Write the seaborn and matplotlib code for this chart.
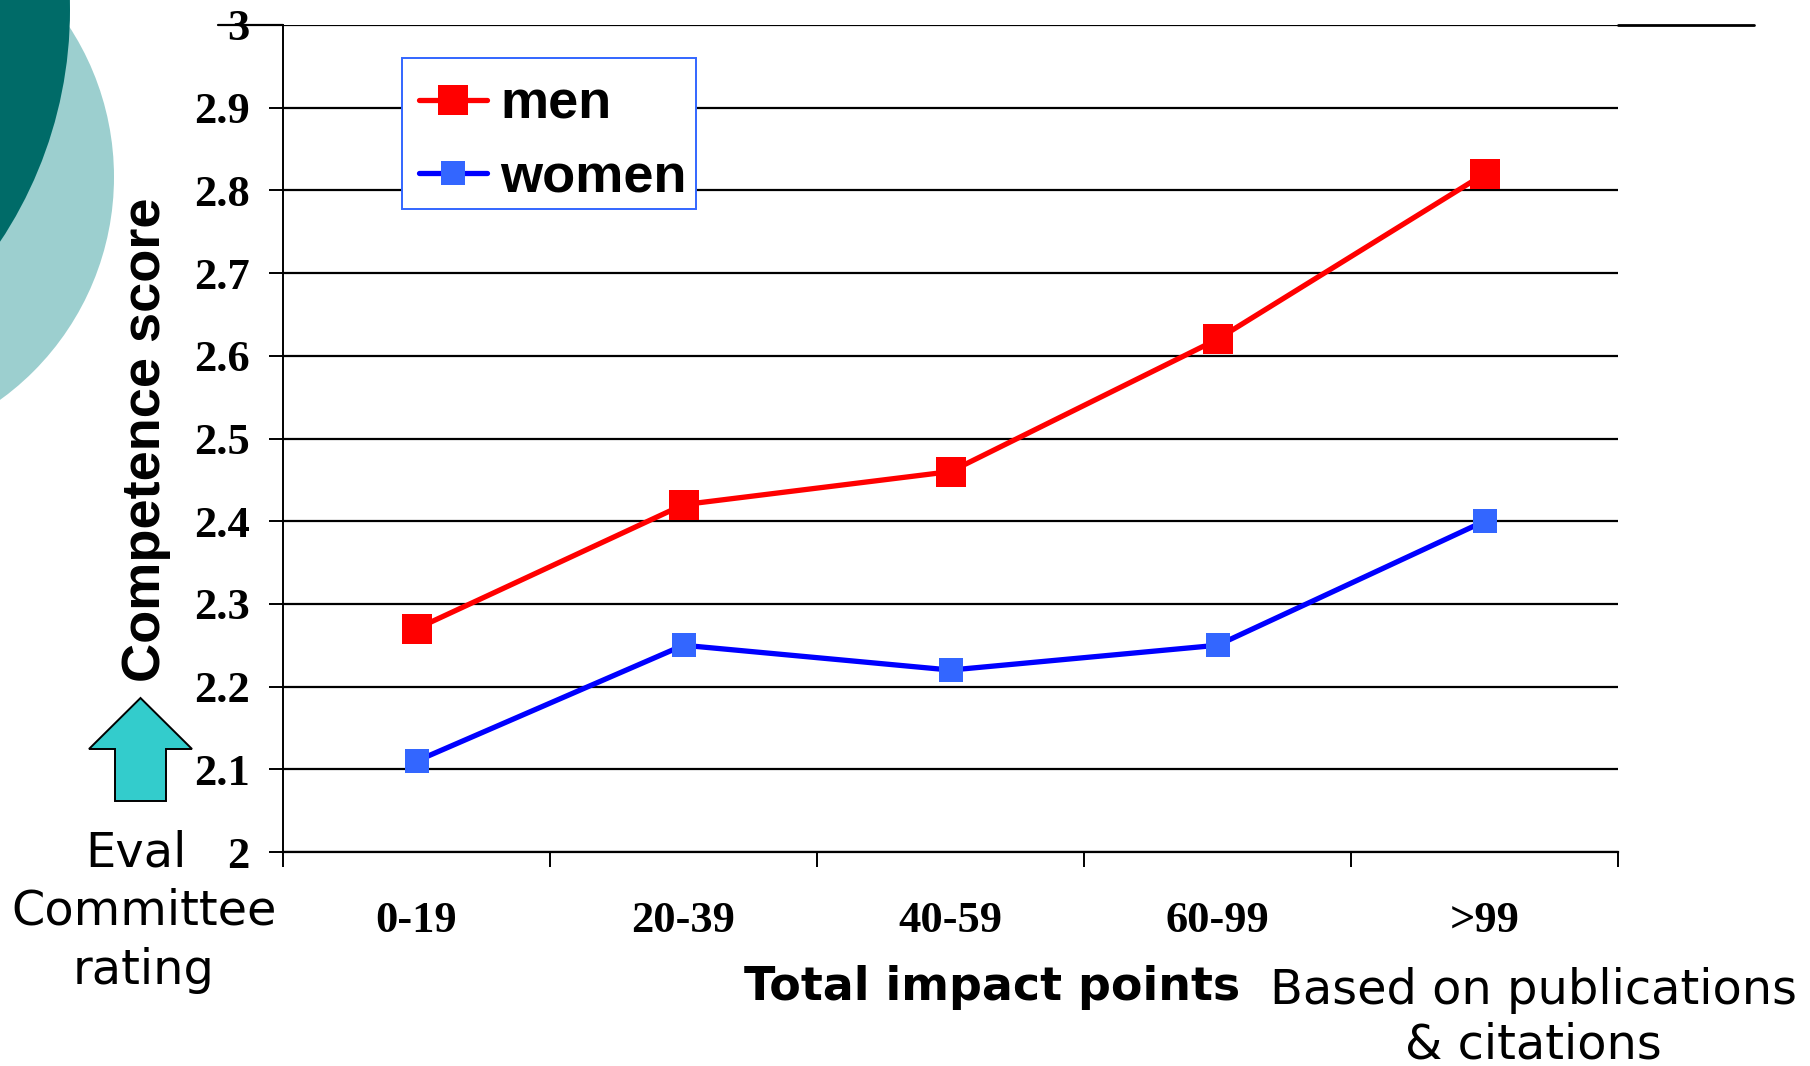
import pandas as pd
import matplotlib.pyplot as plt
import seaborn as sns
from matplotlib.lines import Line2D
from matplotlib.patches import Circle, Polygon, Rectangle

# Values
categories = ["0-19", "20-39", "40-59", "60-99", ">99"]
men_scores = [2.27, 2.42, 2.46, 2.62, 2.82]
women_scores = [2.11, 2.25, 2.22, 2.25, 2.40]
y_ticks = [2.0, 2.1, 2.2, 2.3, 2.4, 2.5, 2.6, 2.7, 2.8, 2.9, 3.0]
y_tick_labels = ["2", "2.1", "2.2", "2.3", "2.4", "2.5", "2.6", "2.7", "2.8", "2.9", "3"]

W, H = 1810, 1066
SERIF = "Liberation Serif"
ARIAL = "Liberation Sans"
VERDANA = "DejaVu Sans"

sns.set_style("white")

data = pd.DataFrame({
    "impact": categories * 2,
    "score": men_scores + women_scores,
    "group": ["men"] * 5 + ["women"] * 5,
})


def px(x, y):
    # pixel position measured from the top left of the picture
    return x / W, 1 - y / H


fig = plt.figure(figsize=(W / 100, H / 100), dpi=100)

# --- Slide background circles and arrow ---
fig.patches.append(Circle((-161, H - 177), 275, color="#9CCFCF", lw=0,
                          transform=None, figure=fig))
fig.patches.append(Circle((-349, H - 10), 419, color="#006B68", lw=0,
                          transform=None, figure=fig))
arrow = [(140.5, 698), (192, 749), (166, 749), (166, 801),
         (115, 801), (115, 749), (89, 749)]
fig.patches.append(Polygon([(x, H - y) for x, y in arrow], closed=True,
                           facecolor="#33CCCC", edgecolor="black", lw=1.4,
                           transform=None, figure=fig))

# --- Chart ---
ax = fig.add_axes([283 / W, 1 - 852 / H, 1335 / W, 827 / H])
ax.patch.set_alpha(0)

sns.lineplot(data=data, x="impact", y="score", hue="group", style="group",
             palette={"men": "#FF0000", "women": "#0000FF"},
             markers={"men": "s", "women": "s"}, dashes=False,
             sort=False, linewidth=3.8, ax=ax, zorder=3)

ax.set_xlim(-0.5, 4.5)
ax.set_ylim(2, 3)

handles, labels = ax.get_legend_handles_labels()
for line in list(ax.lines[:2]) + list(handles):
    is_men = line.get_color() == "#FF0000"
    line.set_markersize(21.6 if is_men else 16.8)
    line.set_markerfacecolor("#FF0000" if is_men else "#3366FF")
    line.set_markeredgewidth(0)

ax.grid(False)
ax.set_yticks(y_ticks, labels=y_tick_labels)
ax.yaxis.grid(True, color="black", linewidth=1.6, zorder=1)
ax.set_axisbelow(True)
ax.tick_params(axis="y", left=True, length=10, width=1.4, pad=14, color="black")
for label in ax.get_yticklabels():
    label.set(fontfamily=SERIF, fontweight="bold", fontsize=32, color="black")

ax.set_xticks([-0.5, 0.5, 1.5, 2.5, 3.5, 4.5], labels=[""] * 6)
ax.tick_params(axis="x", which="major", bottom=True, length=11, width=1.4, color="black")
ax.set_xticks(range(5), labels=categories, minor=True)
ax.tick_params(axis="x", which="minor", bottom=False, length=0, pad=35)
for label in ax.get_xticklabels(minor=True):
    label.set(fontfamily=SERIF, fontweight="bold", fontsize=32, color="black")

sns.despine(ax=ax, top=True, right=True)
ax.spines["left"].set(linewidth=1.4, color="black")
ax.spines["bottom"].set(linewidth=1.6, color="black")

ax.set_ylabel("Competence score", fontfamily=ARIAL, fontweight="bold", fontsize=39,
              color="black", va="center")
ax.yaxis.set_label_coords((146 - 283) / 1335, (852 - 440) / 827)
ax.set_xlabel("Total impact points", fontfamily=VERDANA, fontweight="bold", fontsize=33,
              color="black", va="center")
ax.xaxis.set_label_coords((992 - 283) / 1335, (852 - 987) / 827)

# Legend box drawn separately, the rows sit low in it
ax.add_patch(Rectangle((402, H - 209), 294, 151, facecolor="white", edgecolor="#3366FF",
                       linewidth=1.4, transform=None, zorder=4, clip_on=False))
legend = ax.legend(handles, labels, loc="upper left",
                   bbox_to_anchor=((405 - 283) / 1335, (852 - 66) / 827),
                   prop={"family": ARIAL, "weight": "bold", "size": 39},
                   labelcolor="black", frameon=False,
                   borderpad=0.25, labelspacing=0.44,
                   handlelength=1.26, handletextpad=0.25, borderaxespad=0)
legend.set_zorder(5)

# Top rule runs past the plot on both sides
for x0, x1, lw in [(218, 283, 1.6), (1618, 1754, 2.0)]:
    x_a, y_a = px(x0, 25)
    x_b, y_b = px(x1, 25)
    fig.add_artist(Line2D([x_a, x_b], [y_a, y_b], color="black", linewidth=lw))

# --- Side notes ---
for text, x, y in [("Eval", 136, 853), ("Committee", 144, 911), ("rating", 144, 970)]:
    xf, yf = px(x, y)
    fig.text(xf, yf, text, fontfamily=VERDANA, fontsize=34.5, color="black",
             ha="center", va="center")

for text, x, y in [("Based on publications", 1533, 990), ("& citations", 1533, 1045)]:
    xf, yf = px(x, y)
    fig.text(xf, yf, text, fontfamily=VERDANA, fontsize=34.5, color="black",
             ha="center", va="center")

plt.savefig("out.png", dpi=100)
